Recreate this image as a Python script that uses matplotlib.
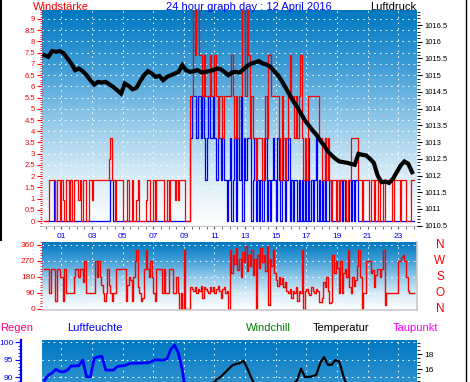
import numpy as np
import matplotlib.pyplot as plt
from matplotlib.colors import LinearSegmentedColormap
from matplotlib.lines import Line2D
from matplotlib.ticker import MultipleLocator, FixedLocator, FuncFormatter

plt.rcParams['font.family'] = ['Liberation Sans', 'DejaVu Sans']

# ---- data ----
# wind samples every 6 minutes, values in steps of one wind level (0.925 on the left scale)
level_height = 0.925
gust_level = [
    0, 0, 0, 2, 2, 2, 2, 0, 2, 2,
    0, 2, 1, 0, 2, 2, 0, 2, 0, 2,
    2, 2, 1, 2, 0, 2, 2, 0, 0, 2,
    2, 1, 2, 2, 2, 2, 2, 2, 2, 2,
    2, 2, 3, 4, 2, 2, 0, 2, 2, 2,
    2, 0, 0, 0, 2, 0, 0, 2, 0, 0,
    1, 2, 0, 0, 0, 0, 1, 2, 2, 0,
    0, 2, 0, 2, 2, 2, 2, 2, 0, 0,
    2, 0, 2, 2, 2, 1, 2, 1, 2, 2,
    2, 2, 0, 0, 0, 6, 6, 11, 8, 11,
    11, 8, 8, 6, 8, 6, 6, 6, 8, 6,
    6, 8, 6, 4, 6, 6, 4, 6, 6, 6,
    6, 6, 8, 6, 4, 6, 4, 6, 6, 11,
    11, 6, 11, 8, 4, 6, 4, 4, 2, 4,
    4, 4, 2, 4, 6, 4, 8, 8, 6, 6,
    6, 6, 6, 4, 2, 6, 4, 2, 4, 6,
    8, 6, 6, 4, 6, 4, 6, 8, 4, 2,
    4, 2, 6, 6, 6, 6, 6, 6, 6, 4,
    4, 2, 2, 4, 2, 4, 2, 0, 2, 2,
    0, 2, 0, 2, 2, 2, 2, 0, 2, 2,
    4, 4, 4, 4, 4, 2, 2, 0, 2, 2,
    2, 2, 0, 2, 2, 0, 2, 2, 0, 2,
    2, 0, 2, 2, 2, 2, 2, 0, 2, 2,
    2, 2, 0, 2, 2, 2, 0, 0, 0, 2,
    2, 2,
]
avg_level = [
    0, 0, 0, 0, 0, 0, 2, 0, 0, 0,
    0, 0, 0, 0, 0, 0, 0, 0, 0, 0,
    0, 0, 0, 0, 0, 0, 0, 0, 0, 0,
    0, 0, 0, 0, 0, 0, 0, 0, 0, 0,
    0, 0, 0, 2, 2, 0, 0, 0, 0, 0,
    0, 0, 0, 0, 0, 0, 0, 0, 0, 0,
    0, 0, 0, 0, 0, 0, 0, 0, 0, 0,
    0, 0, 0, 0, 0, 0, 0, 0, 0, 0,
    0, 0, 0, 0, 0, 0, 0, 0, 0, 0,
    0, 0, 0, 0, 0, 4, 6, 6, 6, 4,
    6, 6, 4, 6, 4, 2, 4, 6, 4, 4,
    6, 4, 2, 4, 4, 2, 4, 2, 2, 0,
    2, 4, 0, 2, 4, 0, 4, 2, 6, 0,
    4, 2, 4, 4, 4, 0, 2, 4, 0, 2,
    0, 2, 0, 2, 4, 0, 2, 0, 2, 4,
    2, 0, 4, 2, 0, 4, 2, 0, 2, 4,
    0, 2, 0, 2, 2, 0, 2, 0, 2, 0,
    2, 0, 4, 0, 2, 0, 2, 4, 0, 2,
    0, 2, 0, 4, 0, 0, 2, 0, 0, 0,
    0, 0, 0, 2, 0, 2, 0, 0, 0, 2,
    0, 2, 0, 2, 2, 0, 0, 0, 0, 0,
    0, 0, 0, 0, 0, 0, 0, 0, 0, 0,
    0, 0, 0, 0, 0, 0, 0, 0, 0, 0,
    0, 0, 0, 0, 0, 0, 0, 0, 0, 0,
    0, 0,
]
wind_dir = [
    225, 225, 225, 90, 225, 225, 225, 45, 225, 225,
    180, 180, 45, 225, 90, 90, 90, 90, 90, 180,
    225, 225, 180, 225, 225, 150, 270, 90, 90, 90,
    90, 90, 90, 270, 180, 270, 180, 135, 90, 45,
    90, 225, 135, 90, 45, 90, 90, 225, 225, 225,
    225, 225, 225, 45, 135, 180, 160, 45, 180, 270,
    330, 120, 90, 45, 60, 225, 330, 225, 180, 270,
    180, 90, 45, 225, 225, 225, 225, 90, 225, 90,
    90, 225, 225, 225, 90, 90, 180, 90, 0, 90,
    0, 330, 0, 0, 0, 120, 110, 100, 120, 90,
    110, 100, 130, 60, 120, 110, 100, 90, 120, 100,
    120, 90, 110, 130, 100, 60, 110, 120, 90, 100,
    0, 330, 200, 300, 250, 340, 220, 280, 180, 320,
    260, 350, 210, 300, 240, 330, 190, 280, 0, 300,
    230, 340, 260, 300, 210, 350, 20, 280, 240, 330,
    200, 160, 130, 180, 140, 170, 120, 150, 100, 90,
    110, 60, 100, 90, 120, 45, 100, 90, 330, 0,
    100, 110, 90, 80, 120, 100, 90, 110, 100, 40,
    40, 60, 150, 120, 180, 100, 30, 40, 300, 200,
    270, 230, 90, 270, 90, 200, 225, 180, 330, 120,
    90, 180, 130, 160, 240, 330, 180, 0, 90, 90,
    270, 270, 270, 200, 220, 120, 190, 225, 225, 180,
    225, 330, 20, 90, 90, 90, 90, 90, 90, 90,
    90, 270, 270, 290, 300, 270, 180, 100, 90, 90,
    90, 90,
]
# quarter-hourly series
pressure = [
    1015.6, 1015.55, 1015.72, 1015.7, 1015.72, 1015.66, 1015.5, 1015.35,
    1015.15, 1015.2, 1015.12, 1015.0, 1014.85, 1014.72, 1014.8, 1014.78,
    1014.8, 1014.72, 1014.65, 1014.55, 1014.45, 1014.75, 1014.68, 1014.58,
    1014.62, 1014.82, 1015.0, 1015.12, 1015.05, 1014.95, 1014.98, 1014.85,
    1014.95, 1015.0, 1015.05, 1015.1, 1015.3, 1015.15, 1015.1, 1015.12,
    1015.15, 1015.08, 1015.1, 1015.12, 1015.15, 1015.2, 1015.18, 1015.1,
    1015.0, 1015.08, 1015.1, 1015.08, 1015.18, 1015.28, 1015.35, 1015.38,
    1015.42, 1015.35, 1015.32, 1015.25, 1015.12, 1015.0, 1014.82, 1014.62,
    1014.42, 1014.22, 1014.05, 1013.85, 1013.65, 1013.5, 1013.35, 1013.22,
    1013.05, 1012.9, 1012.72, 1012.6, 1012.5, 1012.42, 1012.4, 1012.38,
    1012.35, 1012.32, 1012.65, 1012.62, 1012.6, 1012.5, 1012.38, 1012.0,
    1011.8, 1011.82, 1011.78, 1011.9, 1012.1, 1012.3, 1012.42, 1012.35,
    1012.1,
]
humidity = [
    89.0, 90.5, 91.2, 92.2, 91.6, 91.5, 92.0, 93.2,
    93.2, 93.3, 94.9, 90.1, 90.1, 95.4, 95.8, 96.0,
    92.0, 92.0, 92.0, 93.0, 93.2, 93.3, 93.8, 94.0,
    94.0, 94.0, 94.1, 94.1, 94.5, 95.0, 94.9, 94.9,
    95.2, 98.0, 99.2, 96.8, 92.0, 85.0, 80.0, 77.0,
    74, 72, 70, 68, 66, 65, 63, 62,
    61, 60, 59, 58, 57, 58, 60, 62,
    63, 64, 64, 65, 66, 67, 68, 68,
    69, 70, 67, 64, 66, 67, 66, 65,
    63, 61, 63, 64, 62, 63, 68, 72,
    74, 75, 76, 76, 77, 77, 78, 79,
    80, 80, 81, 81, 82, 82, 83, 83,
    84,
]
temperature = [
    10.8, 10.7, 10.6, 10.5, 10.4, 10.4, 10.3, 10.3,
    10.2, 10.2, 10.1, 10.1, 10.0, 10.0, 10.0, 9.9,
    9.9, 9.8, 9.8, 9.8, 9.7, 9.7, 9.8, 9.9,
    10.0, 10.2, 10.4, 10.6, 10.8, 11.0, 11.2, 11.4,
    11.6, 11.8, 12.0, 12.3, 12.6, 12.8, 13.0, 13.2,
    13.4, 13.5, 13.6, 13.8, 14.1, 14.7, 15.0, 15.5,
    16.0, 16.5, 16.7, 16.8, 17.1, 16.1, 14.9, 13.9,
    13.6, 13.5, 13.4, 13.4, 13.5, 13.6, 13.8, 13.9,
    14.0, 14.1, 14.6, 16.1, 15.0, 15.0, 15.1, 15.3,
    16.8, 17.6, 16.6, 16.6, 17.2, 17.0, 15.2, 13.8,
    13.2, 12.9, 12.6, 12.4, 12.2, 12.0, 11.9, 11.8,
    11.7, 11.6, 11.5, 11.4, 11.3, 11.2, 11.1, 11.0,
    10.9,
]
hour_labels = ['01', '03', '05', '07', '09', '11', '13', '15', '17', '19', '21', '23']
compass = ['N', 'W', 'S', 'O', 'N']
humidity_ticks = [90, 95, 100]
temperature_ticks = [14, 16, 18]

# ---- layout helpers (pixel boxes of the 470x382 picture) ----
W, H = 470, 382
fig = plt.figure(figsize=(W / 100, H / 100), dpi=100)


def px_box(x0, y0, x1, y1):
    return [x0 / W, 1 - y1 / H, (x1 - x0) / W, (y1 - y0) / H]


def fx(x):
    return x / W


def fy(y):
    return 1 - y / H


sky = LinearSegmentedColormap.from_list(
    'sky', ['#FFFFFF', '#D4EAF6', '#8EC7E8', '#3C9BD5', '#0078C1'])


def paint(ax):
    ax.imshow(np.linspace(0, 1, 200).reshape(-1, 1), cmap=sky, origin='lower',
              extent=[0, 1, 0, 1], transform=ax.transAxes, aspect='auto',
              zorder=0, interpolation='bilinear')


dots = dict(color='white', linestyle=(0, (1.4, 4.0)), linewidth=0.75)
xlim = (-0.26, 24.22)
fmt = FuncFormatter(lambda v, p: f'{v:g}')

t_wind = np.arange(len(gust_level)) * 0.1 - 0.1
t_quarter = np.arange(len(pressure)) * 0.25 - 0.1
gust = np.array(gust_level) * level_height
avg = np.array(avg_level) * level_height


def hour_grid(ax):
    ax.xaxis.set_major_locator(FixedLocator(range(1, 24, 2)))
    ax.xaxis.set_minor_locator(MultipleLocator(0.5))
    ax.set_xlim(*xlim)
    ax.grid(True, which='major', **dots)


# ---- top panel: wind + pressure ----
ax1 = fig.add_axes(px_box(42, 10, 417, 226))
paint(ax1)
ax1.step(t_wind, avg, where='post', color='#0000FF', lw=0.9, zorder=2)
ax1.step(t_wind, gust, where='post', color='#FF0000', lw=0.9, zorder=3)
hour_grid(ax1)
ax1.set_ylim(-0.22, 9.4)
ax1.yaxis.set_major_locator(MultipleLocator(0.5))
ax1.yaxis.set_minor_locator(MultipleLocator(0.1))
ax1.yaxis.set_major_formatter(fmt)
ax1.set_xticklabels(hour_labels)
for s in ['top', 'left', 'right']:
    ax1.spines[s].set_visible(False)
ax1.spines['bottom'].set_color('#C8C8C8')
ax1.tick_params(axis='y', which='both', colors='#FF0000', labelsize=5.5, pad=1.5)
ax1.tick_params(axis='y', which='major', length=3.5)
ax1.tick_params(axis='y', which='minor', length=1.8)
ax1.tick_params(axis='x', which='both', color='#505050', labelcolor='#0000FF',
                labelsize=6, length=2.2, pad=2.5)

ax1r = ax1.twinx()
ax1r.plot(t_quarter, pressure, color='black', lw=3.0, solid_joinstyle='miter')
ax1r.set_ylim(1010.49, 1016.95)
ax1r.yaxis.set_major_locator(MultipleLocator(0.5))
ax1r.yaxis.set_minor_locator(MultipleLocator(0.1))
ax1r.yaxis.set_major_formatter(fmt)
for s in ax1r.spines.values():
    s.set_visible(False)
ax1r.tick_params(axis='y', which='both', colors='black', labelsize=5.5, pad=2)
ax1r.tick_params(axis='y', which='major', length=3.5)
ax1r.tick_params(axis='y', which='minor', length=1.8)

fig.text(fx(33), fy(9.5), 'Windstärke', color='#FF0000', fontsize=8, va='baseline')
fig.text(fx(249), fy(9.5), '24 hour graph day : 12 April 2016', color='#0000FF',
         fontsize=8, va='baseline', ha='center')
fig.text(fx(416), fy(9.5), 'Luftdruck', color='black', fontsize=8, va='baseline', ha='right')

# ---- middle panel: wind direction ----
ax2 = fig.add_axes(px_box(42, 242, 417, 310))
paint(ax2)
ax2.step(t_wind, wind_dir, where='post', color='#FF0000', lw=1.0, zorder=2)
hour_grid(ax2)
ax2.set_ylim(-7, 375)
ax2.yaxis.set_major_locator(MultipleLocator(90))
ax2.yaxis.set_minor_locator(MultipleLocator(15))
ax2.tick_params(axis='x', which='both', length=0, labelbottom=False)
ax2.tick_params(axis='y', which='both', colors='#FF0000', labelsize=6, pad=1.5)
ax2.tick_params(axis='y', which='major', length=3.5)
ax2.tick_params(axis='y', which='minor', length=1.8)
for s in ['top', 'left']:
    ax2.spines[s].set_visible(False)
for s in ['right', 'bottom']:
    ax2.spines[s].set_color('#C8C8C8')
    ax2.spines[s].set_linewidth(1.2)

for letter, deg in zip(compass, [360, 270, 180, 90, 0]):
    ypix = 308.7 - deg * 64 / 360
    fig.text(fx(440), fy(ypix), letter, color='#FF0000', fontsize=8.5,
             ha='center', va='center')

# ---- bottom panel: humidity + temperature (cut by the picture edge) ----
ax3 = fig.add_axes(px_box(42, 340, 417, 556))
paint(ax3)
ax3.plot(t_quarter, humidity, color='#0000FF', lw=2.0, zorder=2)
hour_grid(ax3)
ax3.set_ylim(38.5, 100.66)
ax3.yaxis.set_major_locator(FixedLocator(humidity_ticks))
ax3.yaxis.set_minor_locator(FixedLocator(np.arange(88, 101)))
ax3.tick_params(axis='x', which='both', length=0, labelbottom=False)
ax3.tick_params(axis='y', which='both', colors='#0000FF', labelsize=6, pad=1.5)
ax3.tick_params(axis='y', which='major', length=4)
ax3.tick_params(axis='y', which='minor', length=2)
for s in ['top', 'right', 'bottom']:
    ax3.spines[s].set_visible(False)
ax3.spines['left'].set_position(('outward', 21 * 0.72))
ax3.spines['left'].set_color('#0000FF')
ax3.spines['left'].set_linewidth(1.6)

ax3t = ax3.twinx()
ax3t.plot(t_quarter, temperature, color='black', lw=1.6)
ax3t.set_ylim(-8.4, 19.83)
ax3t.yaxis.set_major_locator(FixedLocator(temperature_ticks))
ax3t.yaxis.set_minor_locator(FixedLocator(np.arange(13.5, 20, 0.5)))
for s in ax3t.spines.values():
    s.set_visible(False)
ax3t.tick_params(axis='y', which='both', colors='black', labelsize=6, pad=2)
ax3t.tick_params(axis='y', which='major', length=3.5)
ax3t.tick_params(axis='y', which='minor', length=1.8)

for label, xpix, color in [('Regen', 0, '#FF0080'), ('Luftfeuchte', 67, '#0000FF'),
                           ('Windchill', 246, '#008000'), ('Temperatur', 313, 'black'),
                           ('Taupunkt', 393, '#FF00FF')]:
    fig.text(fx(xpix), fy(331), label, color=color, fontsize=8, va='baseline')

# frame lines at the picture edges
fig.add_artist(Line2D([fx(1), fx(1)], [fy(0), fy(240)], color='black', lw=1.5))
fig.add_artist(Line2D([fx(465.5), fx(465.5)], [fy(0), fy(382)], color='black', lw=1.0))

fig.savefig('out.png', dpi=100)
